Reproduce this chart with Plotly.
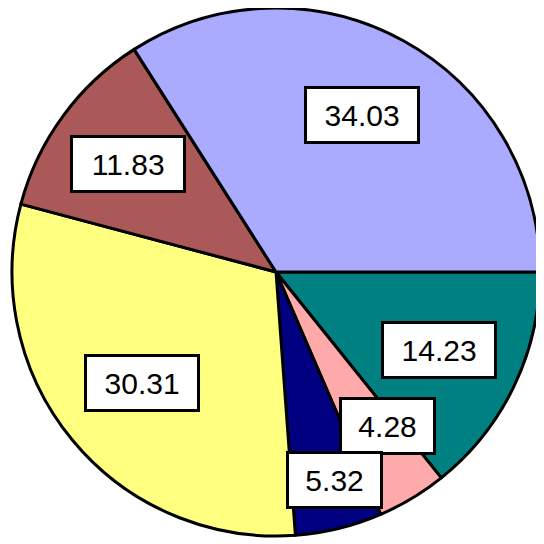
import math
import plotly.graph_objects as go

labels = ["A", "B", "C", "D", "E", "F"]
values = [14.23, 4.28, 5.32, 30.31, 11.83, 34.03]
value_text = ["14.23", "4.28", "5.32", "30.31", "11.83", "34.03"]
colors = ["#008080", "#FFAAAA", "#000080", "#FFFF80", "#AA5858", "#AAAAFF"]

# label placement style (fraction of radius, angular nudge in degrees, clockwise)
label_r = [0.686, 0.72, 0.82, 0.66, 0.695, 0.68]
label_nudge = [0, -5, -2, 0, 0, 0]

# page body has an 8px margin; figure is 536x536 so it fits the window
W = H = 536
dom_x = [4 / W, 532 / W]
dom_y = [(W - 528) / H, 1.0]

fig = go.Figure(go.Pie(
    labels=labels,
    values=values,
    sort=False,
    direction="clockwise",
    rotation=90,
    textinfo="none",
    hoverinfo="label+value",
    marker=dict(colors=colors, line=dict(color="black", width=3)),
    domain=dict(x=dom_x, y=dom_y),
    showlegend=False,
))

FS = 30
cx = (dom_x[0] + dom_x[1]) / 2
cy = (dom_y[0] + dom_y[1]) / 2
R = min((dom_x[1] - dom_x[0]) * W, (dom_y[1] - dom_y[0]) * H) / 2

total = sum(values)
start = 0.0  # degrees, measured clockwise from 3 o'clock
annotations = []
for v, t, r, nd in zip(values, value_text, label_r, label_nudge):
    sweep = v / total * 360
    mid = start + sweep / 2 + nd
    a = math.radians(mid)
    x = cx + r * R * math.cos(a) / W
    y = cy - r * R * math.sin(a) / H
    tw = sum(0.278 if ch == "." else 0.556 for ch in t) * FS
    annotations.append(dict(
        x=x, y=y, xref="paper", yref="paper", text=t, showarrow=False,
        font=dict(family="Liberation Sans, Arial, sans-serif", size=FS, color="black"),
        bgcolor="white", bordercolor="black", borderwidth=3, borderpad=6,
        width=tw * 1.15 + 12, height=40,
        xanchor="center", yanchor="middle",
    ))
    start += sweep

fig.update_layout(
    width=W, height=H,
    margin=dict(l=0, r=0, t=0, b=0),
    paper_bgcolor="white",
    annotations=annotations,
)

fig.write_html("out.html")
